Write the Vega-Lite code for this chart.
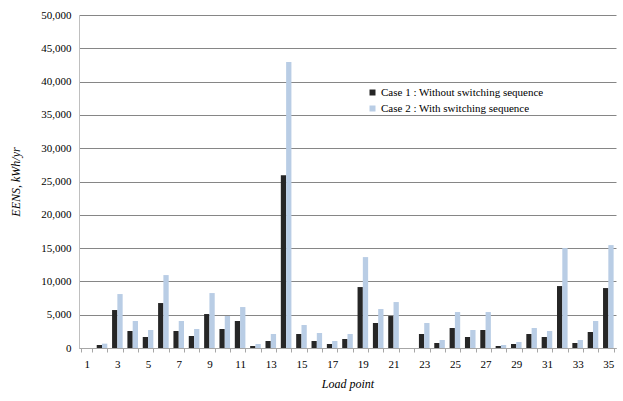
{
  "$schema": "https://vega.github.io/schema/vega-lite/v6.json",
  "width": 537,
  "height": 333,
  "autosize": "none",
  "padding": {"left": 79, "top": 15, "right": 7, "bottom": 53},
  "background": "white",
  "config": {
    "view": {"stroke": null},
    "font": "Liberation Serif"
  },
  "data": {
    "values": [
      {"lp": 1, "c1": 0, "c2": 0},
      {"lp": 2, "c1": 450, "c2": 650},
      {"lp": 3, "c1": 5700, "c2": 8100},
      {"lp": 4, "c1": 2550, "c2": 4050},
      {"lp": 5, "c1": 1650, "c2": 2700},
      {"lp": 6, "c1": 6750, "c2": 10950},
      {"lp": 7, "c1": 2550, "c2": 4050},
      {"lp": 8, "c1": 1800, "c2": 2850},
      {"lp": 9, "c1": 5100, "c2": 8250},
      {"lp": 10, "c1": 2850, "c2": 4800},
      {"lp": 11, "c1": 4050, "c2": 6150},
      {"lp": 12, "c1": 300, "c2": 600},
      {"lp": 13, "c1": 1050, "c2": 2100},
      {"lp": 14, "c1": 25950, "c2": 42950},
      {"lp": 15, "c1": 2100, "c2": 3450},
      {"lp": 16, "c1": 1050, "c2": 2250},
      {"lp": 17, "c1": 600, "c2": 1050},
      {"lp": 18, "c1": 1350, "c2": 2100},
      {"lp": 19, "c1": 9150, "c2": 13650},
      {"lp": 20, "c1": 3750, "c2": 5850},
      {"lp": 21, "c1": 4800, "c2": 6900},
      {"lp": 22, "c1": 0, "c2": 0},
      {"lp": 23, "c1": 2100, "c2": 3750},
      {"lp": 24, "c1": 750, "c2": 1200},
      {"lp": 25, "c1": 3000, "c2": 5400},
      {"lp": 26, "c1": 1650, "c2": 2700},
      {"lp": 27, "c1": 2700, "c2": 5400},
      {"lp": 28, "c1": 300, "c2": 450},
      {"lp": 29, "c1": 600, "c2": 900},
      {"lp": 30, "c1": 2100, "c2": 3000},
      {"lp": 31, "c1": 1650, "c2": 2550},
      {"lp": 32, "c1": 9300, "c2": 15000},
      {"lp": 33, "c1": 750, "c2": 1200},
      {"lp": 34, "c1": 2400, "c2": 4050},
      {"lp": 35, "c1": 9000, "c2": 15450}
    ]
  },
  "transform": [
    {"fold": ["c1", "c2"], "as": ["case", "value"]},
    {"calculate": "datum['case'] == 'c1' ? 'Case 1 : Without switching sequence' : 'Case 2 : With switching sequence'", "as": "series"}
  ],
  "mark": {"type": "bar"},
  "encoding": {
    "x": {
      "field": "lp",
      "type": "ordinal",
      "sort": null,
      "scale": {"paddingInner": 0.31, "paddingOuter": 0.155},
      "axis": {
        "title": "Load point",
        "titleFont": "Liberation Serif",
        "titleFontStyle": "italic",
        "titleFontWeight": "normal",
        "titleFontSize": 12,
        "titleColor": "#000000",
        "titlePadding": 9,
        "labelAngle": 0,
        "labelFont": "Liberation Serif",
        "labelFontSize": 11,
        "labelColor": "#000000",
        "labelPadding": 6,
        "labelOverlap": false,
        "labelExpr": "datum.value % 2 == 1 ? datum.label : ''",
        "tickBand": "extent",
        "tickColor": "#a6a6a6",
        "tickSize": 4,
        "domainColor": "#a6a6a6",
        "grid": false
      }
    },
    "xOffset": {"field": "case", "type": "nominal"},
    "y": {
      "field": "value",
      "type": "quantitative",
      "scale": {"domain": [0, 50000]},
      "axis": {
        "title": "EENS, kWh/yr",
        "titleFont": "Liberation Serif",
        "titleFontStyle": "italic",
        "titleFontWeight": "normal",
        "titleFontSize": 12,
        "titleColor": "#000000",
        "titlePadding": 18,
        "format": ",d",
        "values": [0, 5000, 10000, 15000, 20000, 25000, 30000, 35000, 40000, 45000, 50000],
        "labelOverlap": false,
        "labelFont": "Liberation Serif",
        "labelFontSize": 11,
        "labelColor": "#000000",
        "labelPadding": 8,
        "ticks": false,
        "domainColor": "#bfbfbf",
        "gridColor": "#868686",
        "gridWidth": 1
      }
    },
    "color": {
      "field": "series",
      "type": "nominal",
      "scale": {"range": ["#262626", "#b9cde5"]},
      "legend": {
        "title": null,
        "orient": "none",
        "legendX": 288,
        "legendY": 72,
        "symbolType": "square",
        "symbolSize": 36,
        "symbolStrokeWidth": 0,
        "labelFont": "Liberation Serif",
        "labelFontSize": 11,
        "labelLimit": 400,
        "labelColor": "#000000",
        "labelOffset": 3,
        "rowPadding": 4,
        "fillColor": "white"
      }
    }
  }
}
